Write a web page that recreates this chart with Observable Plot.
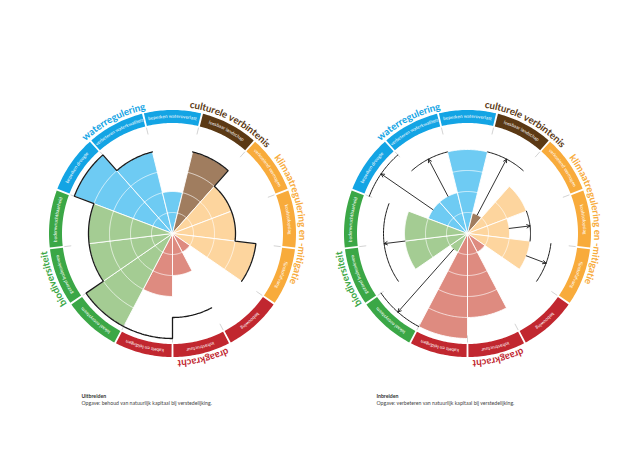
<!DOCTYPE html>
<html><head><meta charset="utf-8">
<script src="https://cdn.jsdelivr.net/npm/d3@7"></script>
<script src="https://cdn.jsdelivr.net/npm/@observablehq/plot@0.6"></script>
<style>body{margin:0;background:#fff;}</style>
</head><body><div id="chart"></div>
<script>
// ---------- data ----------
const sectorLabels = ["beperken droogte","verbeteren waterkwaliteit","beperken wateroverlast","leesbaar landschap","verkoelend vermogen","koolstofopslag","fijnstofafvang","bebouwing","infrastructuur","kabels en leidingen","lokaal ecosysteem","gezond bodemleven","bodemvruchtbaarheid"];
const sectorGroup = [0,0,0,1,2,2,2,3,3,3,4,4,4];
const groupTitles = ["waterregulering","culturele verbintenis","klimaatregulering en -mitigatie","draagkracht","biodiversiteit"];
const groupDark = ["#13a4e4","#5b3914","#f8ab3b","#c1272f","#3ba746"];
const groupLight = ["#6ecbf3","#a07d5f","#fdd59e","#de8b80","#a4cc93"];

const uitbreidenValues  = [5,4,2,4,3,3,4,1,2,3,5,4,4];
const uitbreidenOutline = [5,4,null,4,3,3,4,null,4,5,5,4,4];
const inbreidenValues   = [2,2,4,1,3,2,3,1,4,5,1,3,3];
const arrowFirst = [0,1,3,5,6,10,11];
const arrowLast  = [0,1,3,5,6,10,12];
const arrowFrom  = [2,2,1,2,3,1,3];
const arrowTo    = [5,4,4,3,4,5,4];
const chartTitles = ["Uitbreiden","Inbreiden"];
const chartSubtitles = ["Opgave: behoud van natuurlijk kapitaal bij verstedelijking.","Opgave: verbeteren van natuurlijk kapitaal bij verstedelijking."];

// ---------- layout ----------
const W = 639, H = 451, U = 21;           // px per grade
const OX = 172, OY = 233;                  // left chart centre in px
const CX = [0, 295 / U];                   // chart centres in data units
const N = sectorLabels.length, STEP = 360 / N, START = -2.5 * STEP;
const R_IN = 110.5 / U, R_OUT = 123.5 / U, R_LABEL = 117.2 / U, R_TITLE = 126.8 / U;
const R_T1 = 102 / U, R_T2 = 109 / U;
const rad = Math.PI / 180;

const pt = (c, r, a) => [CX[c] + r * Math.sin(a * rad), r * Math.cos(a * rad)];
function arc(c, r, a1, a2) {
  const n = Math.max(2, Math.ceil(Math.abs(a2 - a1) / 1));
  return d3.range(n + 1).map(k => pt(c, r, a1 + (a2 - a1) * k / n));
}

// wedges + grid
const wedges = [], grid = [];
[uitbreidenValues, inbreidenValues].forEach((vals, c) => {
  vals.forEach((v, i) => {
    const a1 = START + i * STEP, a2 = a1 + STEP;
    if (v > 0) {
      const pts = [pt(c, 0, a1), ...arc(c, v, a1, a2), pt(c, 0, a1)];
      pts.forEach(([x, y]) => wedges.push({id: `${c}-${i}`, x, y, fill: groupLight[sectorGroup[i]]}));
    }
    for (let k = 1; k < v; k++) arc(c, k, a1, a2).forEach(([x, y]) => grid.push({id: `${c}-${i}-${k}`, x, y}));
  });
});

// ring segments
const ring = [], ticks = [];
const GAP = 0.45;
[0, 1].forEach(c => {
  sectorLabels.forEach((s, i) => {
    const a1 = START + i * STEP + GAP, a2 = START + (i + 1) * STEP - GAP;
    const pts = [...arc(c, R_OUT, a1, a2), ...arc(c, R_IN, a2, a1)];
    pts.push(pts[0]);
    pts.forEach(([x, y]) => ring.push({id: `${c}-${i}`, x, y, fill: groupDark[sectorGroup[i]]}));
    const a = START + i * STEP;
    const [x1, y1] = pt(c, R_T1, a), [x2, y2] = pt(c, R_T2, a);
    ticks.push({x1, y1, x2, y2});
  });
});

// outline (Uitbreiden)
const outline = [];
(function () {
  const o = uitbreidenOutline;
  let run = 0;
  for (let s = 0; s < N; s++) {
    if (o[s] == null || o[(s - 1 + N) % N] != null) continue;
    let i = s;
    while (true) {
      const a1 = START + i * STEP, a2 = a1 + STEP;
      arc(0, o[i], a1, a2).forEach(([x, y]) => outline.push({id: run, x, y}));
      const j = (i + 1) % N;
      if (o[j] == null || j === s) break;
      i = j;
    }
    run++;
  }
})();

// target arcs + arrows (Inbreiden)
const targets = [], arrows = [];
arrowFirst.forEach((f, k) => {
  const a1 = START + f * STEP, a2 = START + (arrowLast[k] + 1) * STEP;
  arc(1, arrowTo[k], a1, a2).forEach(([x, y]) => targets.push({id: k, x, y}));
  const a = (a1 + a2) / 2;
  const [x1, y1] = pt(1, arrowFrom[k], a), [x2, y2] = pt(1, arrowTo[k], a);
  arrows.push({x1, y1, x2, y2});
});

// text along arcs
const ctx = document.createElement("canvas").getContext("2d");
function arcChars(str, font, centerDeg, r, spacing, c) {
  ctx.font = font;
  const chars = [...str];
  const ws = chars.map(ch => ctx.measureText(ch).width);
  const total = d3.sum(ws) + spacing * (ws.length - 1);
  const rpx = r * U;
  const start = centerDeg - (total / rpx) / rad / 2;
  let cum = 0;
  return chars.map((ch, k) => {
    const a = start + (cum + ws[k] / 2) / rpx / rad;
    cum += ws[k] + spacing;
    const [x, y] = pt(c, r, a);
    return {ch, x, y, rot: a};
  });
}
const TITLE_SIZE = 9.8;
const TITLE_FONT = `bold ${TITLE_SIZE}px Lato`, LABEL_FONT = "4.6px Lato";
const titleChars = [], labelChars = [];
[0, 1].forEach(c => {
  groupTitles.forEach((t, g) => {
    const idx = sectorGroup.map((s, i) => s === g ? i : -1).filter(i => i >= 0);
    const center = START + (d3.mean(idx) + 0.5) * STEP;
    arcChars(t, TITLE_FONT, center, R_TITLE, -0.05, c).forEach(d => titleChars.push({...d, fill: groupDark[g]}));
  });
  sectorLabels.forEach((s, i) => {
    const center = START + (i + 0.5) * STEP;
    arcChars(s, LABEL_FONT, center, R_LABEL, 0.05, c).forEach(d => labelChars.push(d));
  });
});

// captions
const captions = chartTitles.map((t, c) => ({c, x: CX[c] - 91 / U, y1: -(397.6 - OY) / U, y2: -(404.4 - OY) / U, title: t, sub: chartSubtitles[c]}));

const chart = Plot.plot({
  width: W, height: H, margin: 0,
  x: {domain: [-OX / U, (W - OX) / U], axis: null},
  y: {domain: [-(H - OY) / U, OY / U], axis: null},
  color: {type: "identity"},
  style: {background: "#fff"},
  marks: [
    Plot.line(wedges, {x: "x", y: "y", z: "id", fill: "fill", stroke: "#fff", strokeWidth: 0.9, curve: "linear"}),
    Plot.line(grid, {x: "x", y: "y", z: "id", stroke: "#fff", strokeWidth: 0.8, strokeOpacity: 0.85, curve: "linear"}),
    Plot.line(ring, {x: "x", y: "y", z: "id", fill: "fill", stroke: "none", curve: "linear"}),
    Plot.link(ticks, {x1: "x1", y1: "y1", x2: "x2", y2: "y2", stroke: "#c8c8c8", strokeWidth: 0.8}),
    Plot.line(outline, {x: "x", y: "y", z: "id", stroke: "#1a1a1a", strokeWidth: 1.3, strokeLinejoin: "miter", curve: "linear"}),
    Plot.line(targets, {x: "x", y: "y", z: "id", stroke: "#1a1a1a", strokeWidth: 1, curve: "linear"}),
    Plot.arrow(arrows, {x1: "x1", y1: "y1", x2: "x2", y2: "y2", stroke: "#1a1a1a", strokeWidth: 0.9, headLength: 6, headAngle: 55}),
    Plot.text(titleChars, {x: "x", y: "y", text: "ch", rotate: "rot", fill: "fill", fontFamily: "Lato", fontWeight: "bold", fontSize: TITLE_SIZE, lineAnchor: "bottom", textAnchor: "middle"}),
    Plot.text(labelChars, {x: "x", y: "y", text: "ch", rotate: "rot", fill: "#fff", fontFamily: "Lato", fontSize: 4.6, lineAnchor: "middle", textAnchor: "middle"}),
    Plot.text(captions, {x: "x", y: "y1", text: "title", fill: "#333", fontFamily: "Lato", fontWeight: "bold", fontSize: 5.2, textAnchor: "start", lineAnchor: "bottom"}),
    Plot.text(captions, {x: "x", y: "y2", text: "sub", fill: "#444", fontFamily: "Lato", fontSize: 5.2, textAnchor: "start", lineAnchor: "bottom"})
  ]
});
document.getElementById("chart").appendChild(chart);
</script>
</body></html>
